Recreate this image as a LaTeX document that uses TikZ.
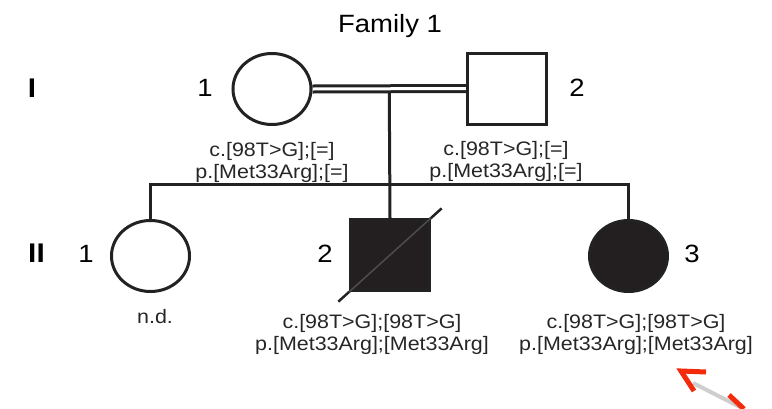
\documentclass[tikz,border=0pt]{standalone}
\usepackage{fontspec}
\setmainfont{Liberation Sans}
\newfontfamily\pedfont[FakeStretch=1.1]{Liberation Sans}
\usetikzlibrary{shapes.geometric,calc,backgrounds}
\definecolor{pedink}{HTML}{222222}
\definecolor{pedfill}{HTML}{231F20}
\definecolor{notered}{HTML}{F32B0C}

\begin{document}
  \begin{tikzpicture}[x=1pt,y=-1pt,line width=3pt,
      female/.style={draw=pedink,ellipse,minimum width=78pt,minimum height=71pt,inner sep=0pt},
      male/.style={draw=pedink,rectangle,minimum width=79pt,minimum height=71pt,inner sep=0pt},
      affected/.style={fill=pedfill},
      pedline/.style={draw=pedink,line width=3pt},
      geno/.style={anchor=north,inner sep=0pt,align=center,text=black!85,
        font=\pedfont\fontsize{19.5}{21.5}\selectfont},
      idnum/.style={anchor=base,inner sep=0pt,font=\pedfont\fontsize{25}{25}\selectfont},
      gen/.style={anchor=base,inner sep=0pt,font=\pedfont\bfseries\fontsize{27}{27}\selectfont}]
    \useasboundingbox (0,0) rectangle (772,408);
    \node[anchor=base,inner sep=0pt,font=\pedfont\fontsize{25}{25}\selectfont] (title) at (390,32) {Family 1};
    \node[gen] (genI) at (32,97) {I};
    \node[gen] (genII) at (36.5,262) {II};
    % generation I
    \node[female] (I1) at (272,89) {};
    \node[male] (I2) at (507,88.5) {};
    \node[idnum] (nI1) at (205,96) {1};
    \node[idnum] (nI2) at (577,96) {2};
    % generation II
    \node[female] (II1) at (150.5,256) {};
    \node[male,affected] (II2) at (390,255) {};
    \node[female,affected] (II3) at (628.5,256) {};
    \node[idnum] (nII1) at (86,262) {1};
    \node[idnum] (nII2) at (325,262) {2};
    \node[idnum] (nII3) at (692,262) {3};
    \coordinate (mate) at ($(I1.east)!0.5!(I2.west)$);
    \coordinate (sib) at (390,184);
    \begin{scope}[on background layer]
      \draw[pedline] (mate) -- (II2.north);
      \draw[pedline,double=white,double distance=3pt] (I1.east) -- (I2.west);
      \draw[pedline] (II1.north) |- (sib) -| (II3.north);
    \end{scope}
    % deceased
    \draw[pedink,line width=2.5pt] ($(II2.south west)!-0.13!(II2.north east)$) -- ($(II2.north east)!-0.13!(II2.south west)$);
    \draw[gray!60!black,line width=1.5pt] (II2.south west) -- (II2.north east);
    \node[geno] (gI1) at (272,141) {c.[98T>G];[=]\\p.[Met33Arg];[=]};
    \node[geno] (gI2) at (506,140) {c.[98T>G];[=]\\p.[Met33Arg];[=]};
    \node[geno] (gII1) at (155,308) {n.d.};
    \node[geno] (gII2) at (372,313) {c.[98T>G];[98T>G]\\p.[Met33Arg];[Met33Arg]};
    \node[geno] (gII3) at (636,313) {c.[98T>G];[98T>G]\\p.[Met33Arg];[Met33Arg]};
    % red pointer
    \coordinate (tip) at (681,371);
    \draw[gray!55,line width=4pt,opacity=0.7] (693,383) -- (742,408);
    \draw[notered,line width=5pt] (706,372) -- (tip) -- (694,391);
    \draw[notered,line width=5pt] (729,395) -- (744,409);
  \end{tikzpicture}
\end{document}
